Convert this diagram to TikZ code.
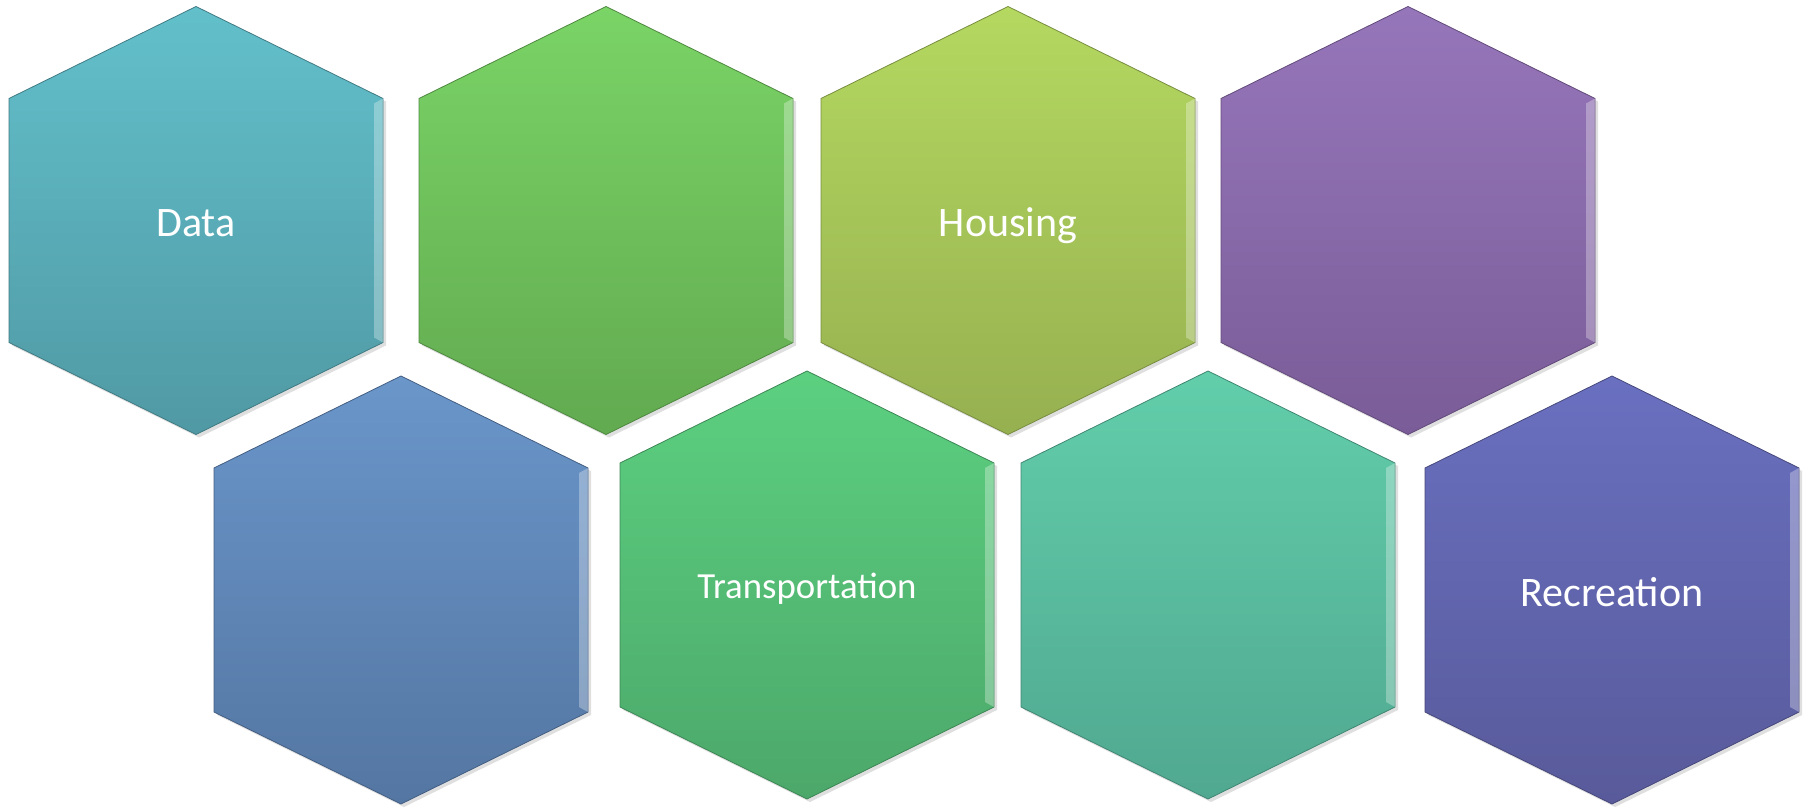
\documentclass[tikz,border=0pt]{standalone}
\usepackage{fontspec}
\setmainfont{Carlito}
\usepackage{xcolor}
\usetikzlibrary{shadows}

% cell colours (top / bottom of the gradient)
\definecolor{dataTop}{RGB}{98,192,203}
\definecolor{dataBot}{RGB}{80,153,164}
\definecolor{greenTop}{RGB}{122,212,102}
\definecolor{greenBot}{RGB}{98,170,80}
\definecolor{housingTop}{RGB}{180,216,96}
\definecolor{housingBot}{RGB}{150,176,80}
\definecolor{purpleTop}{RGB}{150,118,186}
\definecolor{purpleBot}{RGB}{122,92,152}
\definecolor{blueTop}{RGB}{106,150,202}
\definecolor{blueBot}{RGB}{84,118,162}
\definecolor{transTop}{RGB}{92,208,128}
\definecolor{transBot}{RGB}{76,168,106}
\definecolor{tealTop}{RGB}{98,206,170}
\definecolor{tealBot}{RGB}{80,168,144}
\definecolor{recTop}{RGB}{106,112,192}
\definecolor{recBot}{RGB}{88,90,154}

\tikzset{
  hexbody/.style 2 args={top color=#1, bottom color=#2, draw=#2!80!black, line width=0.4pt,
    drop shadow={opacity=0.25, shadow xshift=1.5pt, shadow yshift=-1.5pt}},
  hexedge/.style={fill=white, fill opacity=0.3},
  hexlabel/.style={text=white, inner sep=0pt, anchor=base, yshift=-7.75pt,
    font=\fontsize{21}{25}\selectfont},
  hexsmall/.style={text=white, inner sep=0pt, anchor=base, yshift=-6pt,
    font=\fontsize{18.4}{22}\selectfont}
}

% one hexagon cell: name, centre, top colour, bottom colour, label style, text
\newcommand{\hexcell}[6]{%
  \path[hexbody={#3}{#4}] (#2) ++(0,-215) -- ++(187,92) -- ++(0,244) -- ++(-187,92)
    -- ++(-187,-92) -- ++(0,-244) -- cycle;
  \path[hexedge] (#2) ++(187,-123) -- ++(0,244) -- ++(-9,-5) -- ++(0,-234) -- cycle;
  \node[#5] (#1) at (#2) {#6};
}

\begin{document}
\begin{tikzpicture}[x=0.5pt, y=-0.5pt]
    \useasboundingbox (0,0) rectangle (1808,807);

    % Top row
    \hexcell{data}{196,221.5}{dataTop}{dataBot}{hexlabel}{Data}
    \hexcell{green}{606,221.5}{greenTop}{greenBot}{hexlabel}{}
    \hexcell{housing}{1008,221.5}{housingTop}{housingBot}{hexlabel}{Housing}
    \hexcell{purple}{1408,221.5}{purpleTop}{purpleBot}{hexlabel}{}

    % Bottom row
    \hexcell{blue}{401,591}{blueTop}{blueBot}{hexlabel}{}
    \hexcell{transport}{807,586}{transTop}{transBot}{hexsmall}{Transportation}
    \hexcell{teal}{1208,586}{tealTop}{tealBot}{hexlabel}{}
    \hexcell{recreation}{1612,591}{recTop}{recBot}{hexlabel}{Recreation}

\end{tikzpicture}
\end{document}
